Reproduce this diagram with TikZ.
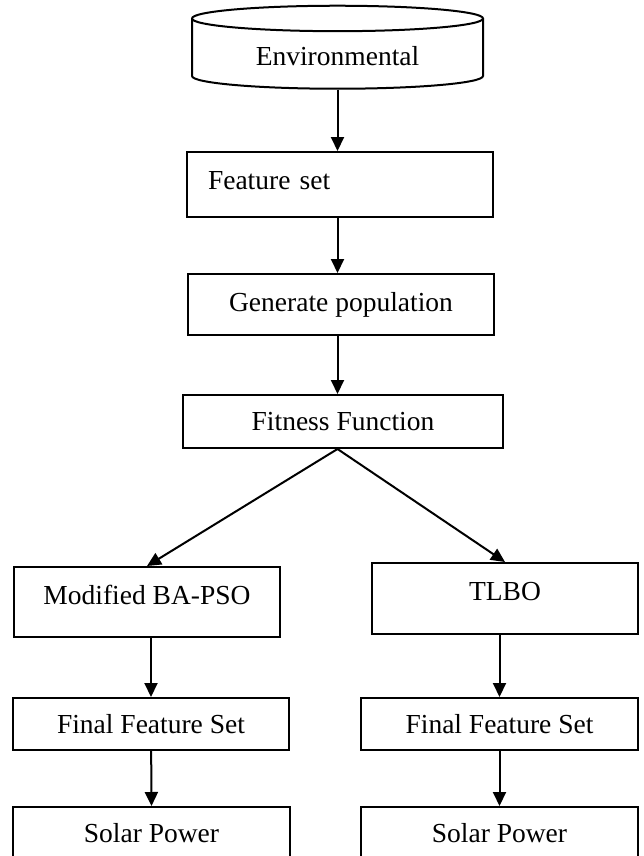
\documentclass[tikz,border=0pt]{standalone}
\usepackage{fontspec}
\setmainfont{Liberation Serif}
\usepackage{tikz}
\usetikzlibrary{arrows.meta,shapes.geometric,positioning}

\begin{document}
\begin{tikzpicture}[x=0.5pt,y=-0.5pt,
  font=\fontsize{13.75}{16}\selectfont,
  box/.style={draw,line width=1pt,inner sep=0pt,minimum height=26pt},
  db/.style={draw,line width=1pt,cylinder,shape border rotate=90,aspect=0.144}]
\path[use as bounding box,clip] (0,0) rectangle (643,856);
\node[db,minimum width=145.5pt,minimum height=41.5pt] (E) at (337.5,56) {Environmental};
\node[box,minimum width=153pt,minimum height=32.5pt,text width=132pt,align=left,inner xsep=10.5pt,text depth=4.5pt] (F) at (340,184.5) {Feature set};
\node[box,minimum width=153pt,minimum height=30.5pt] (P) at (341,304.5) {Generate population};
\node[box,minimum width=160pt,minimum height=26.5pt] (X) at (343,421.5) {Fitness Function};
\node[box,minimum width=133pt,minimum height=35pt,text depth=7pt] (M) at (147,602) {Modified BA-PSO};
\node[box,minimum width=133pt,minimum height=35.5pt,text depth=7pt] (T) at (505,598.5) {TLBO};
\node[box,minimum width=138pt] (M') at (151,724) {Final Feature Set};
\node[box,minimum width=138.5pt] (T') at (499.5,724) {Final Feature Set};
\node[box,minimum width=138.5pt] (M'') at (151.5,833) {Solar Power};
\node[box,minimum width=138.5pt] (T'') at (499.5,833) {Solar Power};
\path[-{Triangle[length=7pt,width=6.5pt]},line width=1pt]
(E) edge (E |- F.north)
(F.south -| E) edge (E |- P.north)
(P.south -| E) edge (E |- X.north)
(X.south -| E) edge (M.north)
(X.south -| E) edge (T.north)
(M.south -| M') edge (M'.north)
(T.south -| T') edge (T'.north)
(M') edge (M''.north)
(T') edge (T''.north);
\end{tikzpicture}
\end{document}
